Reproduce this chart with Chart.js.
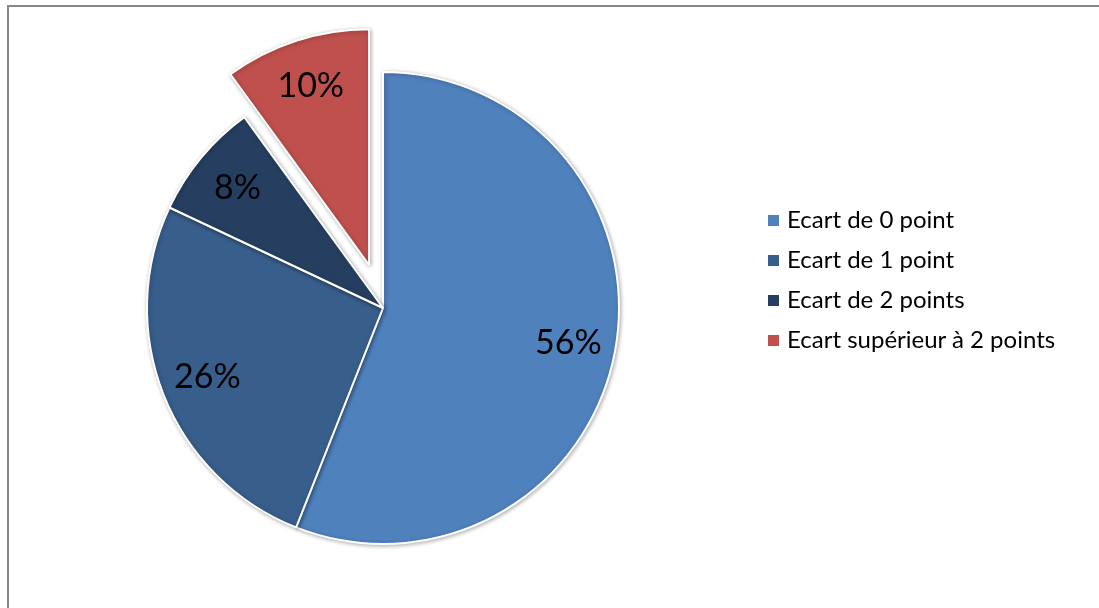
<!DOCTYPE html>
<html>
<head>
<meta charset="utf-8">
<script src="https://cdn.jsdelivr.net/npm/chart.js@4.4.1/dist/chart.umd.min.js"></script>
<style>
  html, body { margin: 0; padding: 0; background: #fff; overflow: hidden; }
  #frame {
    position: absolute; left: 7px; top: 5px; width: 1200px; height: 700px;
    border: 2px solid #878787; box-sizing: border-box;
  }
  #chart { position: absolute; left: 0; top: 0; }
  #legend {
    position: absolute; left: 768px; top: 201px;
    font-family: Lato, "Open Sans", sans-serif; font-size: 24px; color: #000;
  }
  #legend .item { height: 40px; line-height: 36px; white-space: nowrap; }
  #legend .box {
    display: inline-block; width: 11px; height: 11px; margin-right: 8px;
    vertical-align: 2px;
  }
</style>
</head>
<body>
<div id="frame"></div>
<canvas id="chart" width="1099" height="608"></canvas>
<div id="legend"></div>
<script>
// data
const labels = ["Ecart de 0 point", "Ecart de 1 point", "Ecart de 2 points", "Ecart supérieur à 2 points"];
const values = [56, 26, 8, 10];
const colors = ["#4F81BD", "#385E8C", "#263F60", "#C0504D"];
const exploded = [0, 0, 0, 45];

const context = document.getElementById("chart").getContext("2d");

// pulls the exploded slice away from the centre, same radius
const explodePlugin = {
    id: "explode",
    afterDatasetsUpdate(chart) {
        const meta = chart.getDatasetMeta(0);
        meta.data.forEach((arc, i) => {
            const d = exploded[i];
            if (!d) return;
            const mid = (arc.startAngle + arc.endAngle) / 2;
            arc.x += Math.cos(mid) * d;
            arc.y += Math.sin(mid) * d;
        });
    }
};

// soft shadow like the office chart
const shadowPlugin = {
    id: "shadow",
    beforeDatasetsDraw(chart) {
        const c = chart.ctx;
        c.save();
        c.shadowColor = "rgba(0,0,0,0.3)";
        c.shadowBlur = 4;
        c.shadowOffsetX = 1;
        c.shadowOffsetY = 1;
    },
    afterDatasetsDraw(chart) {
        chart.ctx.restore();
    }
};

// percent labels inside the slices
const labelPlugin = {
    id: "pctLabels",
    afterDatasetsDraw(chart) {
        const c = chart.ctx;
        const meta = chart.getDatasetMeta(0);
        const total = values.reduce((a, b) => a + b, 0);
        c.save();
        c.font = "34px Lato, 'Open Sans', sans-serif";
        c.fillStyle = "#000";
        c.textAlign = "center";
        c.textBaseline = "middle";
        meta.data.forEach((arc, i) => {
            const mid = (arc.startAngle + arc.endAngle) / 2;
            const r = arc.outerRadius * 0.8;
            const x = arc.x + Math.cos(mid) * r;
            const y = arc.y + Math.sin(mid) * r;
            c.fillText(Math.round(values[i] / total * 100) + "%", x, y);
        });
        c.restore();
    }
};

new Chart(context, {
    type: "pie",
    data: {
        labels,
        datasets: [{
            data: values,
            backgroundColor: colors,
            borderColor: "#ffffff",
            borderWidth: 2,
            radius: 236
        }]
    },
    options: {
        responsive: false,
        animation: false,
        layout: { padding: { left: 0, right: 333, top: 8, bottom: 0 } },
        plugins: {
            legend: { display: false },
            tooltip: { enabled: false }
        }
    },
    plugins: [explodePlugin, shadowPlugin, labelPlugin]
});

// legend
const legend = document.getElementById("legend");
labels.forEach((name, i) => {
    const row = document.createElement("div");
    row.className = "item";
    const box = document.createElement("span");
    box.className = "box";
    box.style.background = colors[i];
    row.appendChild(box);
    row.appendChild(document.createTextNode(name));
    legend.appendChild(row);
});
</script>
</body>
</html>
